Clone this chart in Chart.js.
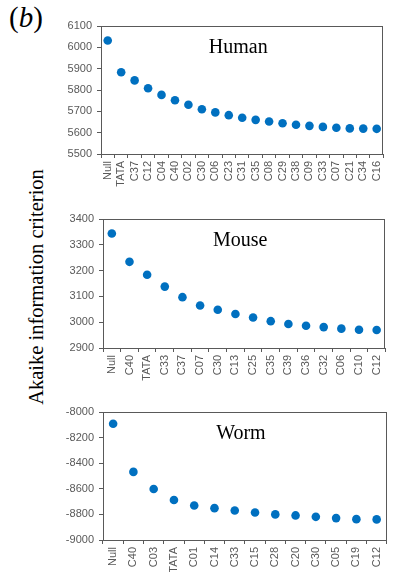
<!DOCTYPE html>
<html>
<head>
<meta charset="utf-8">
<script src="https://cdn.jsdelivr.net/npm/chart.js@4.4.0/dist/chart.umd.min.js"></script>
<style>
    html, body { margin: 0; padding: 0; background: #fff; }
    body { width: 393px; height: 572px; position: relative; overflow: hidden; }
    canvas { position: absolute; left: 48px; }
    #label-b { position: absolute; left: 9px; top: 1px; font-family: "Liberation Serif", serif; font-size: 29px; line-height: 32px; }
    #label-b i { font-style: italic; }
    #ytitle {
        position: absolute; left: 36px; top: 287px; white-space: nowrap;
        font-family: "Liberation Serif", serif; font-size: 20.5px;
        transform: translate(-50%, -50%) rotate(-90deg);
    }
</style>
</head>
<body>
<div id="label-b">(<i>b</i>)</div>
<div id="ytitle">Akaike information criterion</div>
<canvas id="human" width="345" height="188" style="top:14px"></canvas>
<canvas id="mouse" width="345" height="189" style="top:207px"></canvas>
<canvas id="worm" width="345" height="172" style="top:400px"></canvas>
<script>
// AIC per model
const humanLabels = ['Null', 'TATA', 'C37', 'C12', 'C04', 'C40', 'C02', 'C30', 'C06', 'C23', 'C31',
    'C35', 'C08', 'C29', 'C38', 'C09', 'C33', 'C07', 'C21', 'C34', 'C16'];
const humanValues = [6032, 5883, 5845, 5808, 5777, 5752, 5731, 5710, 5695, 5682, 5670,
    5660, 5652, 5644, 5637, 5632, 5627, 5623, 5620, 5619, 5618];
const humanAxis = [5500, 6100, 100];   // min, max, step

const mouseLabels = ['Null', 'C40', 'TATA', 'C33', 'C37', 'C07', 'C30', 'C13', 'C25', 'C35',
    'C39', 'C36', 'C32', 'C06', 'C10', 'C12'];
const mouseValues = [3344, 3234, 3184, 3138, 3097, 3065, 3048, 3032, 3018, 3004,
    2993, 2986, 2981, 2975, 2971, 2970];
const mouseAxis = [2900, 3400, 100];

const wormLabels = ['Null', 'C40', 'C03', 'TATA', 'C01', 'C14', 'C33', 'C15', 'C28', 'C20',
    'C30', 'C05', 'C19', 'C12'];
const wormValues = [-8092, -8468, -8602, -8688, -8730, -8751, -8769, -8785, -8800, -8808,
    -8819, -8829, -8837, -8839];
const wormAxis = [-9000, -8000, 200];

const axisColor = '#595959';
const tickFont = { family: 'Liberation Sans', size: 11 };

// box around the plot area + the species name inside it
const framePlugin = {
    id: 'frame',
    afterDraw(chart, args, opts) {
        const { ctx, chartArea: a } = chart;
        ctx.save();
        ctx.strokeStyle = axisColor;
        ctx.lineWidth = 1;
        ctx.strokeRect(Math.round(a.left) + 0.5, Math.round(a.top) + 0.5,
            Math.round(a.width) - 1, Math.round(a.height));
        ctx.font = '20px "Liberation Serif"';
        ctx.fillStyle = '#000';
        ctx.textAlign = 'center';
        ctx.textBaseline = 'middle';
        ctx.fillText(opts.text, (a.left + a.right) / 2 - 4, a.top + 22);
        ctx.restore();
    }
};

function makePanel(id, name, labels, values, axis, yWidth, xHeight) {
    new Chart(document.getElementById(id), {
        type: 'line',
        data: {
            labels: labels,
            datasets: [{
                data: values,
                showLine: false,
                pointRadius: 4.3,
                pointBorderWidth: 0,
                pointBackgroundColor: '#0070C0'
            }]
        },
        options: {
            responsive: false,
            animation: false,
            events: [],
            layout: { padding: { top: 12, right: 1, left: 0, bottom: 0 } },
            plugins: {
                legend: { display: false },
                tooltip: { enabled: false },
                frame: { text: name }
            },
            scales: {
                x: {
                    offset: true,
                    grid: { offset: true, drawOnChartArea: false, tickLength: 4, color: axisColor },
                    border: { color: axisColor },
                    ticks: {
                        autoSkip: false, maxRotation: 90, minRotation: 90,
                        color: axisColor, font: tickFont, padding: 3
                    },
                    afterFit: s => { s.height = xHeight; }
                },
                y: {
                    min: axis[0],
                    max: axis[1],
                    grid: { drawOnChartArea: false, tickLength: 4, color: axisColor },
                    border: { color: axisColor },
                    ticks: {
                        stepSize: axis[2],
                        color: axisColor, font: tickFont, padding: 5,
                        callback: v => String(v)
                    },
                    afterFit: s => { s.width = yWidth; }
                }
            }
        },
        plugins: [framePlugin]
    });
}

makePanel('human', 'Human', humanLabels, humanValues, humanAxis, 53, 48);
makePanel('mouse', 'Mouse', mouseLabels, mouseValues, mouseAxis, 55, 48);
makePanel('worm', 'Worm', wormLabels, wormValues, wormAxis, 55, 32);
</script>
</body>
</html>
